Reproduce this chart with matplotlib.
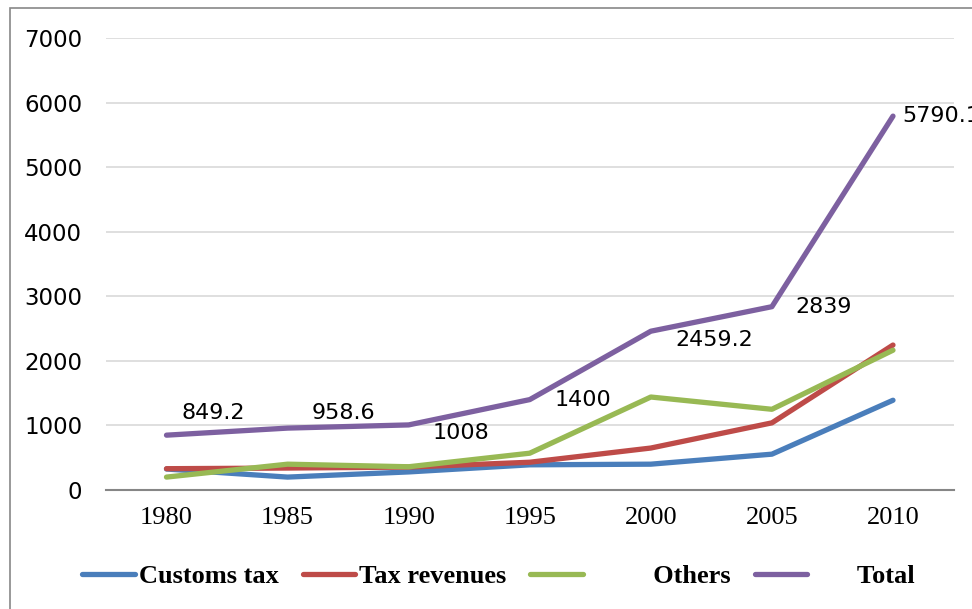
import matplotlib.pyplot as plt
from matplotlib.patches import Rectangle

years = ['1980', '1985', '1990', '1995', '2000', '2005', '2010']
customs_tax = [325, 200, 280, 390, 400, 555, 1390]
tax_revenues = [330, 340, 355, 430, 650, 1040, 2245]
others = [200, 400, 360, 570, 1440, 1250, 2165]
total = [849.2, 958.6, 1008, 1400, 2459.2, 2839, 5790.1]
total_labels = ['849.2', '958.6', '1008', '1400', '2459.2', '2839', '5790.1']

fig = plt.figure(figsize=(9.72, 6.09), dpi=100)
ax = fig.add_axes([0.109, 0.1954, 0.872, 0.7422])

# outer chart frame
fig.patches.append(Rectangle((10 / 972, -0.1), 1.2, 1.1 - 8 / 609,
                             transform=fig.transFigure, fill=False,
                             edgecolor='#888888', linewidth=1.2))

x = range(len(years))
lw = 3.8
ax.plot(x, customs_tax, color='#4A7EBB', lw=lw, solid_capstyle='round', label='Customs tax')
ax.plot(x, tax_revenues, color='#BE4B48', lw=lw, solid_capstyle='round', label='Tax revenues')
ax.plot(x, others, color='#98B954', lw=lw, solid_capstyle='round', label=' ' * 10 + 'Others')
ax.plot(x, total, color='#7D60A0', lw=lw, solid_capstyle='round', label=' ' * 7 + 'Total')

# data labels for Total
offsets = [(11, 16), (17, 11), (17, -6), (18, 0), (18, -6.5), (17, 0), (6.5, 0)]
for i, (v, t) in enumerate(zip(total, total_labels)):
    ax.annotate(t, (i, v), xytext=offsets[i], textcoords='offset points',
                fontsize=16, fontfamily='DejaVu Sans', va='center', ha='left')

ax.set_xlim(-0.5, 6.5)
ax.set_ylim(0, 7000)
ax.set_yticks(range(0, 7001, 1000))
ax.set_xticks(list(x))
ax.set_xticklabels(years)
for lab in ax.get_xticklabels():
    lab.set_fontsize(19)
    lab.set_fontfamily('Liberation Serif')
for lab in ax.get_yticklabels():
    lab.set_fontsize(16.5)
    lab.set_fontfamily('DejaVu Sans')
ax.tick_params(axis='both', length=0)
ax.tick_params(axis='x', pad=12)
ax.tick_params(axis='y', pad=17)
ax.grid(axis='y', color='#D9D9D9', lw=1.2)
ax.set_axisbelow(True)
for s in ['top', 'right', 'left']:
    ax.spines[s].set_visible(False)
ax.spines['bottom'].set_color('#868686')
ax.spines['bottom'].set_linewidth(1.5)

fig.legend(loc='center', bbox_to_anchor=(0.513, 1 - 576 / 609), ncol=4, frameon=False,
           prop={'family': 'Liberation Serif', 'weight': 'bold', 'size': 19},
           handlelength=2.0, handletextpad=0.15, columnspacing=0.9)

fig.savefig('out.png', dpi=100)
